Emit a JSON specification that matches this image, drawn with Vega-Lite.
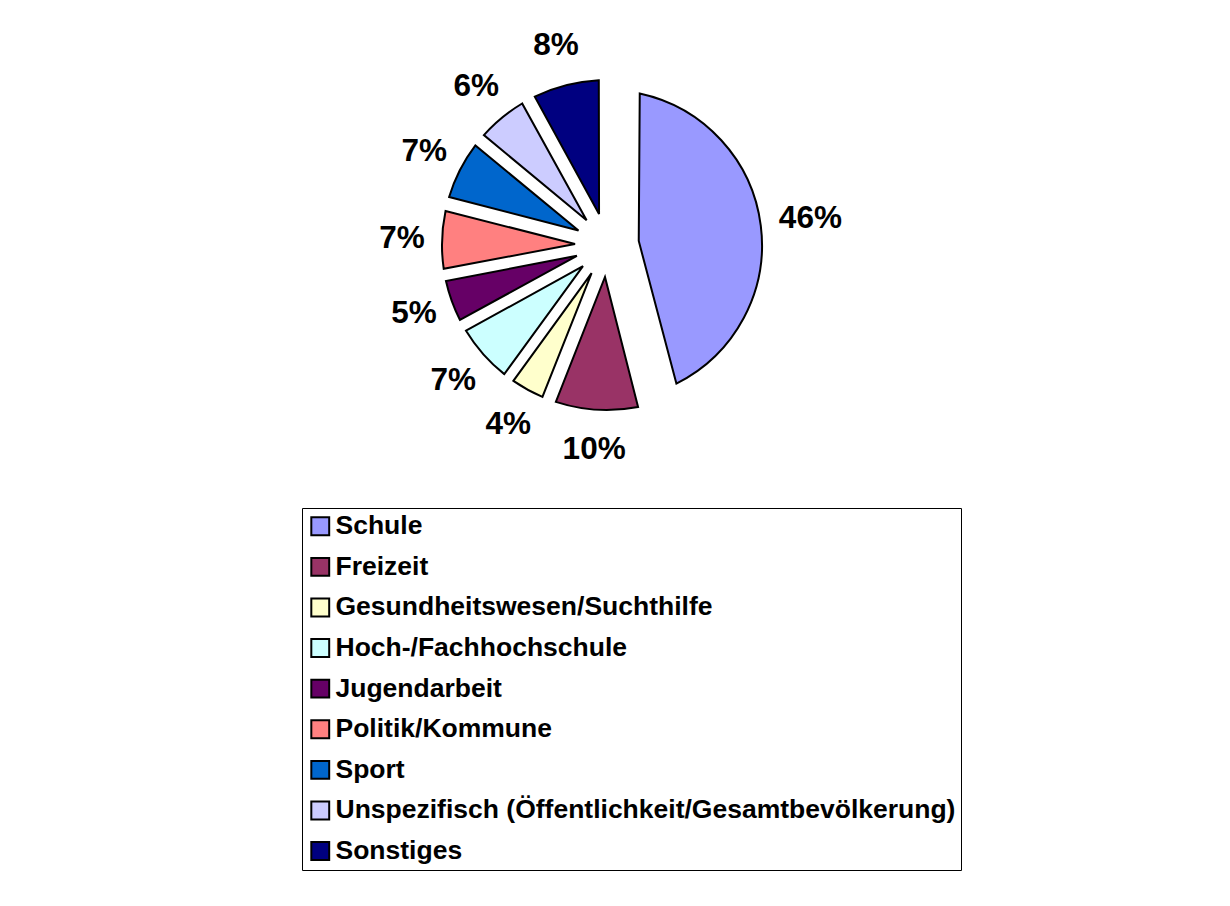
{
  "$schema": "https://vega.github.io/schema/vega-lite/v6.json",
  "autosize": {"type": "none"},
  "width": 1214,
  "height": 490,
  "padding": {"left": 0, "top": 0, "right": 16, "bottom": 416},
  "background": "white",
  "config": {
    "view": {"stroke": null},
    "legend": {
      "strokeColor": "#000000",
      "fillColor": "white",
      "padding": 5,
      "symbolType": "square",
      "symbolSize": 320,
      "symbolStrokeColor": "black",
      "symbolStrokeWidth": 2,
      "symbolOpacity": 1,
      "labelFont": "Liberation Sans",
      "labelFontWeight": "bold",
      "labelFontSize": 26.5,
      "labelColor": "black",
      "labelLimit": 1000,
      "labelOffset": 2,
      "rowPadding": 13.6
    }
  },
  "data": {
    "values": [
      {"idx": 1, "cat": "Schule", "share": 0.46},
      {"idx": 2, "cat": "Freizeit", "share": 0.10},
      {"idx": 3, "cat": "Gesundheitswesen/Suchthilfe", "share": 0.04},
      {"idx": 4, "cat": "Hoch-/Fachhochschule", "share": 0.07},
      {"idx": 5, "cat": "Jugendarbeit", "share": 0.05},
      {"idx": 6, "cat": "Politik/Kommune", "share": 0.07},
      {"idx": 7, "cat": "Sport", "share": 0.07},
      {"idx": 8, "cat": "Unspezifisch (Öffentlichkeit/Gesamtbevölkerung)", "share": 0.06},
      {"idx": 9, "cat": "Sonstiges", "share": 0.08}
    ]
  },
  "transform": [
    {"stack": "share", "groupby": [], "sort": [{"field": "idx", "order": "ascending"}], "as": ["s0", "s1"]}
  ],
  "encoding": {
    "theta": {"field": "s0", "type": "quantitative", "stack": null, "scale": {"domain": [0, 1]}},
    "theta2": {"field": "s1"},
    "color": {
      "field": "cat",
      "type": "nominal",
      "scale": {
        "domain": ["Schule", "Freizeit", "Gesundheitswesen/Suchthilfe", "Hoch-/Fachhochschule", "Jugendarbeit", "Politik/Kommune", "Sport", "Unspezifisch (Öffentlichkeit/Gesamtbevölkerung)", "Sonstiges"],
        "range": ["#9999FF", "#993366", "#FFFFCC", "#CCFFFF", "#660066", "#FF8080", "#0066CC", "#CCCCFF", "#000080"]
      },
      "legend": {"title": null, "orient": "none", "legendX": 302, "legendY": 508}
    }
  },
  "layer": [
    {"transform": [{"filter": "datum.cat === 'Schule'"}],
     "mark": {"type": "arc", "stroke": "black", "strokeWidth": 2, "innerRadius": 32, "radius": 155, "padAngle": 0.4168}},
    {"transform": [{"filter": "datum.cat === 'Freizeit'"}],
     "mark": {"type": "arc", "stroke": "black", "strokeWidth": 2, "innerRadius": 32, "radius": 165, "padAngle": 0.1215}},
    {"transform": [{"filter": "datum.cat === 'Gesundheitswesen/Suchthilfe'"}],
     "mark": {"type": "arc", "stroke": "black", "strokeWidth": 2, "innerRadius": 32, "radius": 165, "padAngle": 0.0492}},
    {"transform": [{"filter": "datum.cat === 'Hoch-/Fachhochschule' || datum.cat === 'Politik/Kommune' || datum.cat === 'Sport'"}],
     "mark": {"type": "arc", "stroke": "black", "strokeWidth": 2, "innerRadius": 32, "radius": 165, "padAngle": 0.0857}},
    {"transform": [{"filter": "datum.cat === 'Jugendarbeit'"}],
     "mark": {"type": "arc", "stroke": "black", "strokeWidth": 2, "innerRadius": 32, "radius": 165, "padAngle": 0.0615}},
    {"transform": [{"filter": "datum.cat === 'Unspezifisch (Öffentlichkeit/Gesamtbevölkerung)'"}],
     "mark": {"type": "arc", "stroke": "black", "strokeWidth": 2, "innerRadius": 32, "radius": 165, "padAngle": 0.0736}},
    {"transform": [{"filter": "datum.cat === 'Sonstiges'"}],
     "mark": {"type": "arc", "stroke": "black", "strokeWidth": 2, "innerRadius": 32, "radius": 165, "padAngle": 0.0977}},
    {"mark": {"type": "text", "radius": 205, "font": "Liberation Sans", "fontWeight": "bold", "fontSize": 31.5, "fill": "black", "align": "center", "baseline": "middle"},
     "encoding": {
       "theta": {"field": "share", "type": "quantitative", "stack": true, "scale": {"domain": [0, 1]}},
       "theta2": null,
       "color": null,
       "order": {"field": "idx", "type": "quantitative"},
       "text": {"field": "share", "type": "quantitative", "format": ".0%"}
     }}
  ]
}
